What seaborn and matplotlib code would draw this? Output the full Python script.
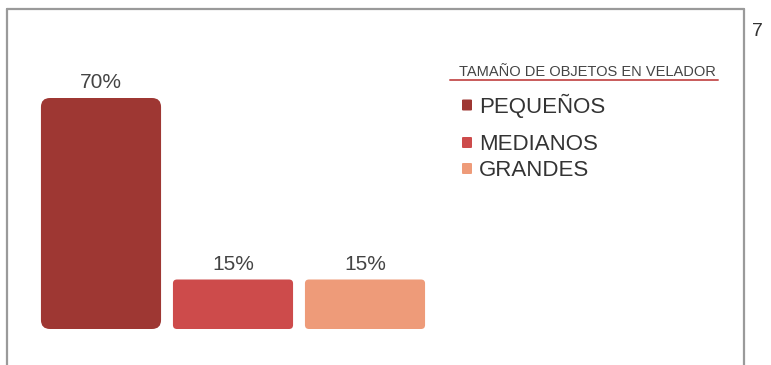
import matplotlib
matplotlib.use("Agg")
import matplotlib.pyplot as plt
from matplotlib.patches import FancyBboxPatch
from matplotlib.lines import Line2D
import seaborn as sns

categories = ["PEQUEÑOS", "MEDIANOS", "GRANDES"]
values = [70, 15, 15]
labels = ["70%", "15%", "15%"]
colors = ["#9e3733", "#cd4b4b", "#ee9b79"]
legend_title = "TAMAÑO DE OBJETOS EN VELADOR"
page_number = "7"

sns.set_theme(style="white")
plt.rcParams["font.family"] = ["Liberation Sans", "DejaVu Sans"]

W, H = 771, 365
fig = plt.figure(figsize=(W / 100, H / 100), dpi=100)
fig.patch.set_facecolor("white")


def fx(px):
    return px / W


def fy(py):
    # pixel row measured from the top edge
    return 1 - py / H


# axes placed in pixel units
ax_left, ax_right = 35, 431
ax_bottom, ax_top = 36, 300
ax = fig.add_axes([ax_left / W, ax_bottom / H, (ax_right - ax_left) / W, (ax_top - ax_bottom) / H])

sns.barplot(x=categories, y=values, hue=categories, palette=colors,
            width=0.91, legend=False, ax=ax, saturation=1)
ax.set_xlim(-0.5, 2.5)
ax.set_ylim(0, 80)
ax.axis("off")

# swap the square bars for rounded ones
px_x = (ax_right - ax_left) / 3.0
px_y = (ax_top - ax_bottom) / 80.0
aspect = px_x / px_y
for patch, val, lab in zip(list(ax.patches), values, labels):
    x, y = patch.get_x(), patch.get_y()
    w, h = patch.get_width(), patch.get_height()
    col = patch.get_facecolor()
    patch.set_visible(False)
    r_px = 9 if val > 30 else 4
    rr = r_px / px_x
    ax.add_patch(FancyBboxPatch((x, y), w, h,
                                boxstyle=f"round,pad=0,rounding_size={rr}",
                                mutation_aspect=aspect, facecolor=col,
                                edgecolor="none"))
    ax.text(x + w / 2, y + h + 10 / px_y, lab, ha="center", va="baseline",
            fontsize=15, color="#444444")

# page frame
frame_kw = dict(transform=fig.transFigure, color="#9a9a9a", lw=1.6)
fig.add_artist(Line2D([fx(7), fx(7)], [0, fy(9)], **frame_kw))
fig.add_artist(Line2D([fx(744), fx(744)], [0, fy(9)], **frame_kw))
fig.add_artist(Line2D([fx(7), fx(744)], [fy(9), fy(9)], **frame_kw))
fig.text(fx(757), fy(36), page_number, ha="center", va="baseline",
         fontsize=14, color="#333333")

# legend block
fig.text(fx(587), fy(75.5), legend_title, ha="center", va="baseline",
         fontsize=10.5, color="#444444")
fig.add_artist(Line2D([fx(450), fx(718)], [fy(79.5), fy(79.5)],
                      transform=fig.transFigure, color="#c85a5a", lw=1.4))
entry_base = [112.5, 150, 176]
for name, col, yy in zip(categories, colors, entry_base):
    fig.add_artist(FancyBboxPatch((fx(462), fy(yy - 2)), 10 / W, 11 / H,
                                  boxstyle="round,pad=0,rounding_size=0.002",
                                  transform=fig.transFigure, facecolor=col,
                                  edgecolor="none"))
    fig.text(fx(479), fy(yy), name, ha="left", va="baseline",
             fontsize=16, color="#333333")

fig.savefig("out.png", dpi=100)
